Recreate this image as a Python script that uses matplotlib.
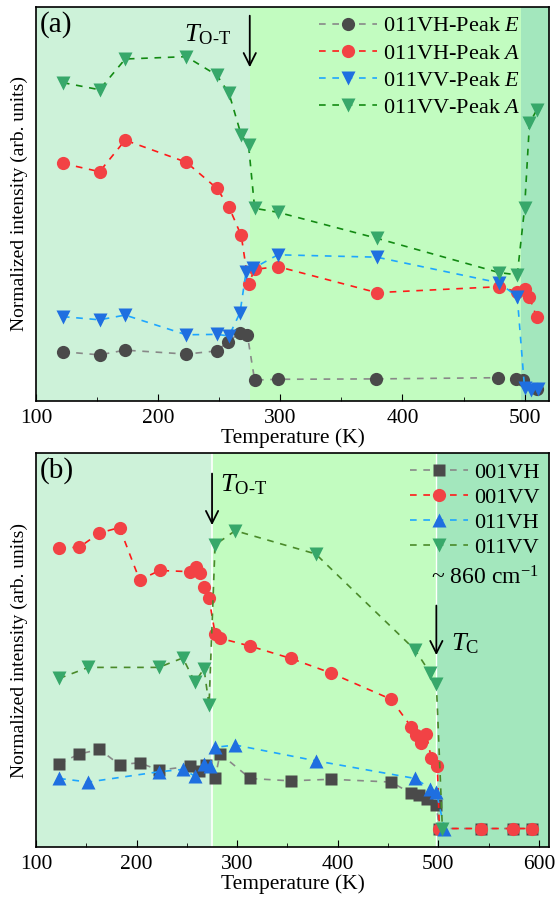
import matplotlib
matplotlib.use("Agg")
from matplotlib import pyplot as plt
from matplotlib.ticker import MultipleLocator

plt.rcParams['font.family'] = ['Liberation Serif', 'DejaVu Serif']
plt.rcParams['mathtext.fontset'] = 'custom'
plt.rcParams['mathtext.rm'] = 'Liberation Serif'
plt.rcParams['mathtext.it'] = 'Liberation Serif:italic'

# ---- panel (a) data ----
t_a_ve = [122, 152, 173, 223, 248, 257, 267, 273, 279, 298, 378, 478, 493, 499, 510]
i_a_ve = [12.5, 11.7, 12.9, 11.9, 12.7, 15.0, 17.3, 16.8, 5.3, 5.5, 5.6, 5.9, 5.6, 5.3, 3.0]

t_a_va = [122, 152, 173, 223, 248, 258, 268, 274, 279, 298, 379, 479, 494, 500, 504, 510]
i_a_va = [60.3, 58.2, 66.2, 60.6, 54.0, 49.2, 42.0, 29.7, 33.4, 34.1, 27.5, 29.0, 27.7, 28.4, 26.3, 21.2]

t_a_vve = [122, 152, 173, 223, 248, 258, 267, 272, 278, 298, 379, 479, 494, 500, 505, 511]
i_a_vve = [21.4, 20.6, 21.8, 16.8, 16.9, 16.5, 22.4, 32.8, 33.7, 37.1, 36.5, 30.0, 26.5, 3.2, 2.8, 3.0]

t_a_vva = [122, 152, 173, 223, 248, 258, 268, 274, 279, 298, 379, 479, 494, 500, 504, 510]
i_a_vva = [80.8, 79.0, 86.8, 87.4, 82.7, 78.1, 67.5, 65.0, 48.9, 47.9, 41.3, 32.6, 32.0, 48.9, 70.5, 73.9]

# ---- panel (b) data ----
t_b_001vh = [123, 143, 163, 183, 203, 222, 253, 262, 269, 278, 283, 313, 353, 393, 453,
             473, 481, 489, 498, 501, 542, 574, 593]
i_b_001vh = [21.2, 23.6, 24.8, 20.9, 21.4, 19.5, 20.5, 19.3, 20.8, 17.5, 23.7, 17.4, 16.8,
             17.2, 16.5, 13.6, 13.1, 12.3, 10.6, 4.7, 4.7, 4.7, 4.7]

t_b_001vv = [123, 143, 163, 183, 203, 223, 253, 259, 263, 267, 272, 278, 283, 313, 353,
             393, 453, 473, 478, 483, 488, 493, 499, 501, 542, 574, 593]
i_b_001vv = [75.9, 76.1, 79.7, 81.1, 67.8, 70.2, 69.9, 71.0, 69.5, 66.1, 63.1, 54.2, 53.0,
             51.0, 47.9, 44.2, 37.5, 30.5, 28.4, 26.3, 28.6, 22.5, 20.5, 4.7, 4.7, 4.7, 4.7]

t_b_011vh = [123, 152, 222, 246, 258, 267, 273, 278, 298, 378, 477, 492, 498, 506]
i_b_011vh = [17.4, 16.5, 19.1, 19.7, 18.0, 21.2, 20.5, 25.3, 25.9, 21.9, 17.4, 14.8, 14.0, 4.7]

t_b_011vv = [123, 152, 222, 246, 258, 267, 272, 278, 298, 378, 477, 492, 498, 504]
i_b_011vv = [42.8, 45.6, 45.6, 48.0, 41.8, 45.3, 36.0, 76.7, 80.3, 74.4, 50.0, 44.1, 41.5, 4.7]

t_ot = 275
t_c_a = 497
t_c_b = 498

# colours
c_light = '#cdf2d9'
c_mid = '#c2fcc0'
c_dark = '#a3e7bd'
gray_m, gray_l = '#4a4a4a', '#888888'
red_m, red_l = '#f24245', '#ff1a1a'
blue_m, blue_l = '#1f6fe0', '#1ea6ff'
green_m = '#37a86a'

fig = plt.figure(figsize=(5.55, 8.97), dpi=100)
ax1 = fig.add_axes([0.0649, 0.553, 0.9243, 0.4392])
ax2 = fig.add_axes([0.0649, 0.0557, 0.9243, 0.4392])

ms = 9.5
lw = 1.2
dash = (0, (4, 4))


def style(ax, xmax, xticks):
    ax.set_xlim(100, xmax)
    ax.set_ylim(0, 100)
    ax.set_yticks([])
    ax.set_xticks(xticks)
    ax.xaxis.set_minor_locator(MultipleLocator(50))
    ax.tick_params(axis='x', which='major', direction='in', length=5, labelsize=15.5, pad=6)
    ax.tick_params(axis='x', which='minor', direction='in', length=3)
    ax.set_xlabel('Temperature (K)', fontsize=15.5, labelpad=0)
    ax.set_ylabel('Normalized intensity (arb. units)', fontsize=14, labelpad=6)
    for s in ax.spines.values():
        s.set_linewidth(1.2)


leg_kw = dict(frameon=False, fontsize=16, handlelength=2.6,
              handletextpad=0.3, borderaxespad=0.0, numpoints=1)

# panel (a)
ax1.axvspan(100, t_ot, color=c_light, lw=0, zorder=0)
ax1.axvspan(t_ot, t_c_a, color=c_mid, lw=0, zorder=0)
ax1.axvspan(t_c_a, 520, color=c_dark, lw=0, zorder=0)
ax1.plot(t_a_ve, i_a_ve, ls=dash, color=gray_l, lw=lw, marker='o', ms=ms,
         mfc=gray_m, mec='none', label='011VH-Peak $E$')
ax1.plot(t_a_va, i_a_va, ls=dash, color=red_l, lw=lw, marker='o', ms=ms,
         mfc=red_m, mec='none', label='011VH-Peak $A$')
ax1.plot(t_a_vve, i_a_vve, ls=dash, color=blue_l, lw=lw, marker='v', ms=ms + 1,
         mfc=blue_m, mec='none', label='011VV-Peak $E$')
ax1.plot(t_a_vva, i_a_vva, ls=dash, color='#138a13', lw=lw, marker='v', ms=ms + 1,
         mfc=green_m, mec='none', label='011VV-Peak $A$')
style(ax1, 520, [100, 200, 300, 400, 500])
ax1.legend(loc='upper right', bbox_to_anchor=(0.962, 1.0), labelspacing=0.3, **leg_kw)
ax1.text(0.008, 0.99, '(a)', transform=ax1.transAxes, fontsize=21, va='top', ha='left')
ax1.annotate('', xy=(t_ot, 84), xytext=(t_ot, 98.5),
             arrowprops=dict(arrowstyle='->', color='black', lw=1.3, mutation_scale=22))
ax1.text(t_ot - 15, 93.0, r'$T_{\text{O-T}}$', fontsize=19, ha='right', va='center')

# panel (b)
ax2.axvspan(100, t_ot, color=c_light, lw=0, zorder=0)
ax2.axvspan(t_ot, t_c_b, color=c_mid, lw=0, zorder=0)
ax2.axvspan(t_c_b, 610, color=c_dark, lw=0, zorder=0)
ax2.axvline(t_ot, color='white', lw=1.2, zorder=0.5)
ax2.axvline(t_c_b, color='white', lw=1.0, zorder=0.5)
ax2.plot(t_b_001vh, i_b_001vh, ls=dash, color=gray_l, lw=lw, marker='s', ms=ms - 0.5,
         mfc=gray_m, mec='none', label='001VH')
ax2.plot(t_b_001vv, i_b_001vv, ls=dash, color=red_l, lw=lw, marker='o', ms=ms,
         mfc=red_m, mec='none', label='001VV')
ax2.plot(t_b_011vh, i_b_011vh, ls=dash, color=blue_l, lw=lw, marker='^', ms=ms + 1,
         mfc=blue_m, mec='none', label='011VH')
ax2.plot(t_b_011vv, i_b_011vv, ls=dash, color='#4a8a2a', lw=lw, marker='v', ms=ms + 1,
         mfc=green_m, mec='none', label='011VV')
style(ax2, 610, [100, 200, 300, 400, 500, 600])
ax2.legend(loc='upper right', labelspacing=0.2, **leg_kw)
ax2.text(0.008, 0.99, '(b)', transform=ax2.transAxes, fontsize=21, va='top', ha='left')
ax2.text(0.98, 0.683, r'~ 860 cm$^{-1}$', transform=ax2.transAxes, fontsize=17,
         ha='right', va='center')
ax2.annotate('', xy=(t_ot, 81), xytext=(t_ot, 95.5),
             arrowprops=dict(arrowstyle='->', color='black', lw=1.3, mutation_scale=22))
ax2.text(t_ot + 8, 92.0, r'$T_{\text{O-T}}$', fontsize=19, ha='left', va='center')
ax2.annotate('', xy=(t_c_b, 48), xytext=(t_c_b, 62),
             arrowprops=dict(arrowstyle='->', color='black', lw=1.3, mutation_scale=22))
ax2.text(t_c_b + 15, 51.5, r'$T_{\rm C}$', fontsize=19, ha='left', va='center')

fig.savefig('out.png', dpi=100)
